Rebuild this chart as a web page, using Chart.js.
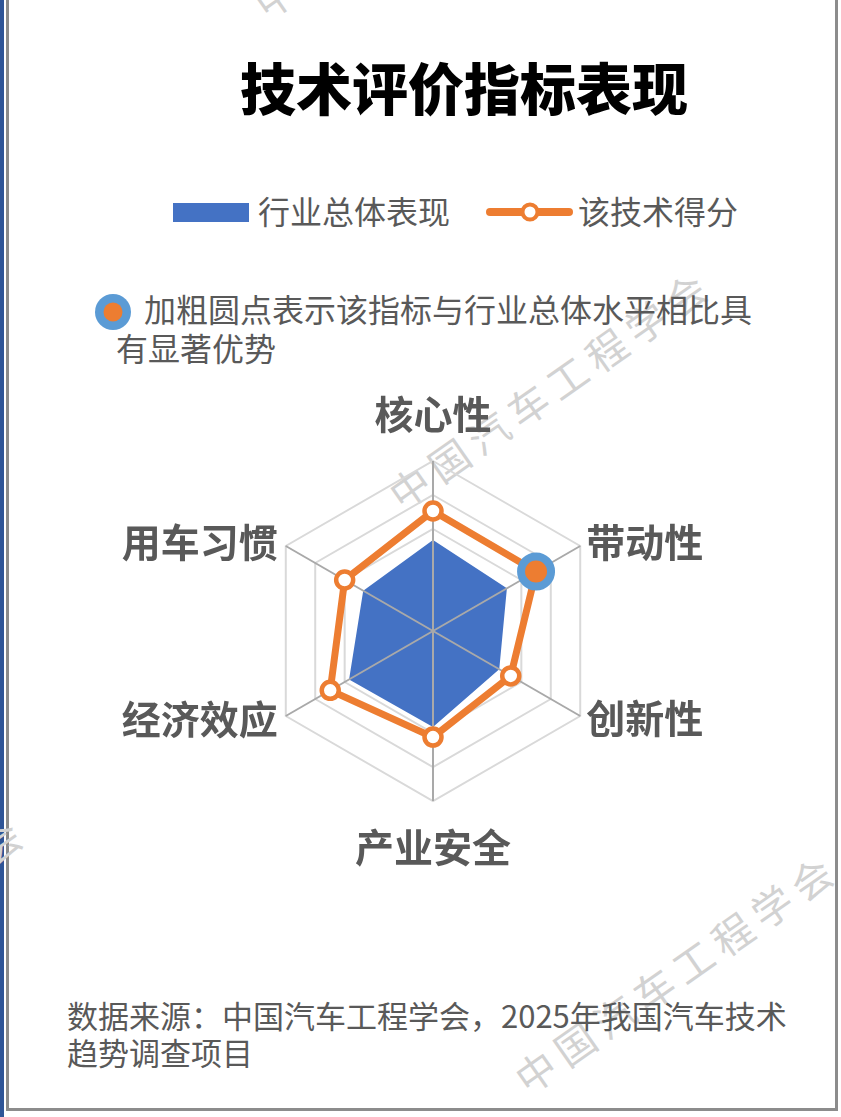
<!DOCTYPE html>
<html>
<head>
<meta charset="utf-8">
<script src="https://cdn.jsdelivr.net/npm/chart.js@4"></script>
<style>
  html, body { margin: 0; padding: 0; background: #fff; }
  body { width: 841px; height: 1117px; position: relative; overflow: hidden; font-family: "Noto Sans CJK SC", sans-serif; }
  .abs { position: absolute; white-space: nowrap; }
  .wm { position: absolute; color: #d2d2d2; font-size: 40px; letter-spacing: 8px; line-height: 40px; transform-origin: center center; white-space: nowrap; }
  #leftBlue { position: absolute; left: 0; top: 0; width: 4px; height: 1117px; background: #2F5597; }
  #frame { position: absolute; left: 6px; top: -20px; width: 832px; height: 1131px; border: 3px solid #8C8C8C; box-sizing: border-box; }
  #title { left: 236px; width: 456px; top: 58px; text-align: center; font-size: 56px; line-height: 56px; font-weight: 900; color: #000; }
  .leg { font-size: 32px; line-height: 32px; color: #595959; top: 194px; }
  #note { left: 116px; top: 289px; font-size: 32px; line-height: 39px; color: #595959; text-indent: 28px; }
  #foot { left: 67px; top: 996px; font-size: 31px; line-height: 37px; color: #595959; }
  #chartWrap { position: absolute; left: 0; top: 0; width: 841px; height: 1117px; }
</style>
</head>
<body>
<div id="leftBlue"></div>
<div id="frame"></div>

<div class="wm" id="wm1">中国汽车工程学会</div>
<div class="wm" id="wm2">中国汽车工程学会</div>
<div class="wm" id="wm3">中国汽车工程学会</div>
<div class="wm" id="wm4">中国汽车工程学会</div>

<div class="abs" id="title">技术评价指标表现</div>

<svg class="abs" style="left:170px;top:198px" width="82" height="28">
  <rect x="3" y="5" width="76" height="19" fill="#4472C4"></rect>
</svg>
<div class="abs leg" style="left:258px" id="legText1"></div>
<svg class="abs" style="left:482px;top:198px" width="96" height="28">
  <line x1="8" y1="14" x2="87" y2="14" stroke="#ED7D31" stroke-width="8" stroke-linecap="round"></line>
  <circle cx="48" cy="14" r="7.5" fill="#fff" stroke="#ED7D31" stroke-width="4"></circle>
</svg>
<div class="abs leg" style="left:578px" id="legText2"></div>

<svg class="abs" style="left:93px;top:292px" width="40" height="40">
  <circle cx="20" cy="20" r="18" fill="#5B9BD5"></circle>
  <circle cx="20" cy="20" r="9.5" fill="#ED7D31"></circle>
</svg>
<div class="abs" id="note">加粗圆点表示该指标与行业总体水平相比具<br>有显著优势</div>

<div class="abs" id="foot">数据来源：中国汽车工程学会，2025年我国汽车技术<br>趋势调查项目</div>

<div id="chartWrap"><canvas id="c" width="841" height="1117"></canvas></div>

<script>
// ---- data ----
const categories = ['核心性', '带动性', '创新性', '产业安全', '经济效应', '用车习惯'];
const industryValues = [2.68, 2.51, 2.25, 2.82, 2.85, 2.37];
const techValues = [3.53, 3.5, 2.64, 3.12, 3.49, 3.0];
const highlighted = [false, true, false, false, false, false];
const seriesNames = ['行业总体表现', '该技术得分'];
const scaleMax = 5;
const scaleStep = 1;
const watermarkText = '中国汽车工程学会';

document.getElementById('legText1').textContent = seriesNames[0];
document.getElementById('legText2').textContent = seriesNames[1];

// watermarks (centers)
const wmPos = [[550, 388], [676, 972], [415, -103], [-135, 935]];
wmPos.forEach((p, i) => {
  const el = document.getElementById('wm' + (i + 1));
  el.textContent = watermarkText;
  const w = 392, h = 40;
  el.style.left = (p[0] - w / 2) + 'px';
  el.style.top = (p[1] - h / 2) + 'px';
  el.style.width = w + 'px';
  el.style.textAlign = 'center';
  el.style.transform = 'rotate(-35deg)';
});

const ORANGE = '#ED7D31';
const BLUE = '#4472C4';
const HL = '#5B9BD5';

const angleLinesPlugin = {
  id: 'angleLinesOverFill',
  afterDatasetDraw(chart, args) {
    if (args.index !== 1) return;
    const s = chart.scales.r;
    const ctx = chart.ctx;
    ctx.save();
    ctx.strokeStyle = '#A9A9A9';
    ctx.lineWidth = 2;
    for (let i = 0; i < categories.length; i++) {
      const p = s.getPointPosition(i, s.drawingArea);
      ctx.beginPath();
      ctx.moveTo(s.xCenter, s.yCenter);
      ctx.lineTo(p.x, p.y);
      ctx.stroke();
    }
    ctx.restore();
  }
};

const labelPlugin = {
  id: 'axisLabels',
  afterDraw(chart) {
    const s = chart.scales.r;
    const ctx = chart.ctx;
    ctx.save();
    ctx.font = 'bold 39px "Noto Sans CJK SC"';
    ctx.fillStyle = '#595959';
    ctx.textBaseline = 'middle';
    categories.forEach((c, i) => {
      const p = s.getPointPosition(i, s.drawingArea);
      let x = p.x, y = p.y, align;
      if (Math.abs(p.x - s.xCenter) < 1) {
        align = 'center';
        y += (p.y < s.yCenter ? -47 : 46);
      } else if (p.x > s.xCenter) {
        align = 'left'; x += 6; y += (p.y < s.yCenter ? -4 : 2);
      } else {
        align = 'right'; x -= 8; y += (p.y < s.yCenter ? -4 : 3);
      }
      ctx.textAlign = align;
      ctx.fillText(c, x, y);
    });
    ctx.restore();
  }
};

new Chart(document.getElementById('c'), {
  type: 'radar',
  data: {
    labels: categories,
    datasets: [
      {
        label: seriesNames[1],
        data: techValues,
        order: 0,
        fill: false,
        borderColor: ORANGE,
        borderWidth: 7,
        tension: 0,
        pointRadius: highlighted.map(h => h ? 15 : 8.5),
        pointBorderWidth: highlighted.map(h => h ? 8 : 4.5),
        pointBackgroundColor: highlighted.map(h => h ? ORANGE : '#FFFFFF'),
        pointBorderColor: highlighted.map(h => h ? HL : ORANGE),
        pointHoverRadius: 8
      },
      {
        label: seriesNames[0],
        data: industryValues,
        order: 1,
        fill: true,
        backgroundColor: BLUE,
        borderColor: BLUE,
        borderWidth: 0,
        pointRadius: 0,
        tension: 0
      }
    ]
  },
  options: {
    responsive: false,
    animation: false,
    devicePixelRatio: 1,
    layout: { padding: { left: 263, right: 238, top: 461, bottom: 316 } },
    plugins: { legend: { display: false }, tooltip: { enabled: false }, title: { display: false } },
    scales: {
      r: {
        min: 0,
        max: scaleMax,
        ticks: { stepSize: scaleStep, display: false },
        pointLabels: { display: false },
        grid: { color: '#D9D9D9', lineWidth: 2 },
        angleLines: { display: false }
      }
    }
  },
  plugins: [angleLinesPlugin, labelPlugin]
});
</script>
</body>
</html>
